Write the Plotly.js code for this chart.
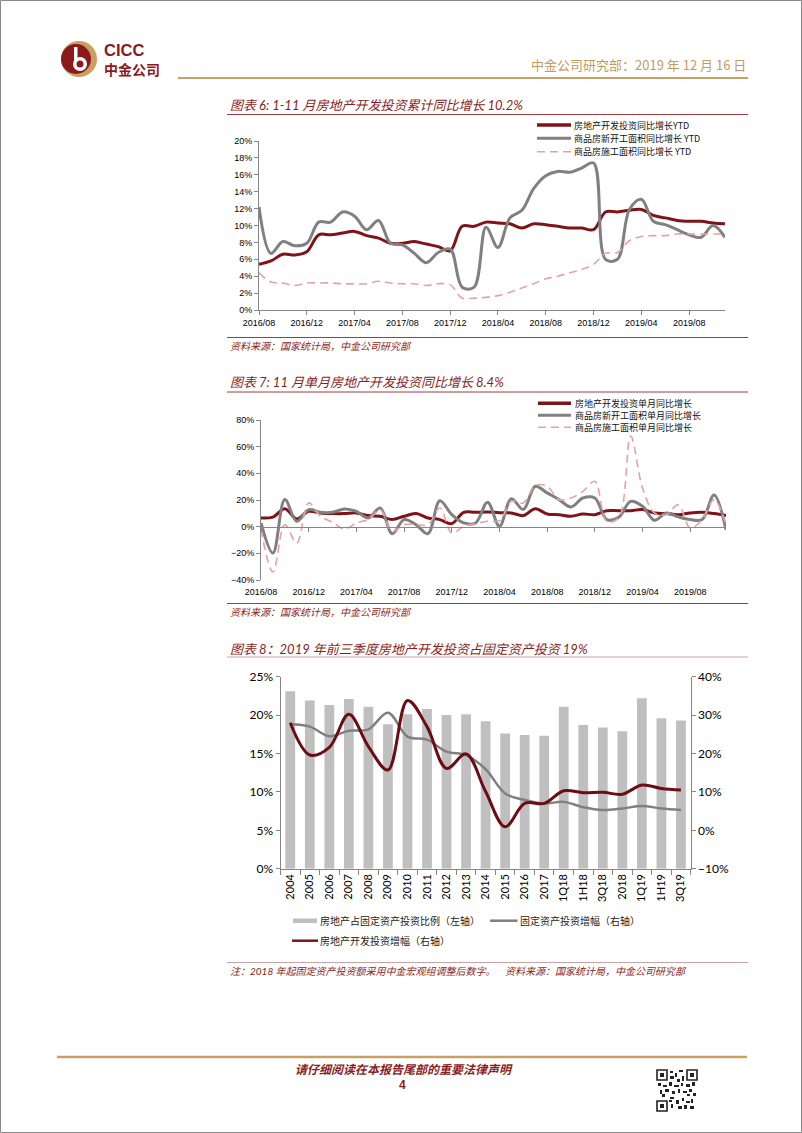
<!DOCTYPE html>
<html><head><meta charset="utf-8">
<script src="https://cdn.plot.ly/plotly-3.0.1.min.js"></script>
<style>html,body{margin:0;padding:0;background:#fff;}#page{width:802px;height:1133px;}</style>
</head><body><div id="page"></div>
<script>
const W = 802, H = 1133;

// ---------- data: chart 6 (YTD, %) ----------
const months = ['2016/08','2016/09','2016/10','2016/11','2016/12',
  '2017/01','2017/02','2017/03','2017/04','2017/05','2017/06','2017/07','2017/08','2017/09','2017/10','2017/11','2017/12',
  '2018/01','2018/02','2018/03','2018/04','2018/05','2018/06','2018/07','2018/08','2018/09','2018/10','2018/11','2018/12',
  '2019/01','2019/02','2019/03','2019/04','2019/05','2019/06','2019/07','2019/08','2019/09','2019/10','2019/11'];
const tickMonths = ['2016/08','2016/12','2017/04','2017/08','2017/12','2018/04','2018/08','2018/12','2019/04','2019/08'];
const invYTD = [5.4,5.8,6.6,6.5,6.9,8.9,8.9,9.1,9.3,8.8,8.5,7.9,7.9,8.1,7.8,7.5,7.0,9.9,9.9,10.4,10.3,10.2,9.7,10.2,10.1,9.9,9.7,9.7,9.5,11.6,11.6,11.8,11.9,11.2,10.9,10.6,10.5,10.5,10.3,10.2];
const newStartYTD = [12.2,6.7,8.1,7.6,7.9,10.4,10.4,11.6,11.1,9.5,10.6,7.9,7.7,6.7,5.6,6.8,7.2,2.7,2.7,9.8,7.4,10.9,11.8,14.4,15.9,16.4,16.3,16.8,17.4,6.0,6.0,11.9,13.1,10.5,10.1,9.5,8.9,8.6,10.0,8.6];
const underConYTD = [4.4,3.3,3.2,2.9,3.2,3.2,3.2,3.1,3.1,3.1,3.4,3.2,3.1,3.1,2.9,3.1,3.0,1.4,1.4,1.5,1.7,2.1,2.6,3.1,3.7,4.0,4.4,4.8,5.4,6.7,6.8,8.2,8.7,8.8,8.8,9.0,9.0,9.0,9.0,9.0];
const ytdNames = ['房地产开发投资同比增长YTD','商品房新开工面积同比增长 YTD','商品房施工面积同比增长 YTD'];

// ---------- data: chart 7 (single month, %) ----------
const invMonthly = [6.5,7.2,13.5,5.8,11.5,10.3,9.8,9.8,10.3,8.3,7.8,5.3,7.8,9.8,6.5,5.3,2.3,10.8,10.8,11.0,10.5,10.3,8.3,13.5,9.5,9.0,7.8,9.5,9.0,12.0,12.0,12.0,12.8,10.3,9.8,9.0,10.3,10.8,9.8,8.4];
const newStartMonthly = [2.8,-19.8,20.3,4.0,12.8,10.8,10.8,13.3,11.5,6.5,14.0,-5.3,5.3,1.5,-5.3,19.5,9.0,2.8,2.8,18.3,0.3,21.0,12.8,30.3,25.3,20.3,14.8,21.5,21.5,5.3,7.0,19.0,15.3,4.8,10.3,7.3,5.3,5.3,23.8,-2.3];
const underConMonthly = [-2.0,-34.0,1.5,-12.3,17.8,7.8,3.3,-1.8,2.8,5.3,12.8,-3.5,1.5,1.5,1.5,14.0,-4.8,0.3,2.3,4.0,4.5,19.0,17.8,30.8,30.3,20.3,21.5,26.5,34.0,4.0,6.5,68.0,29.0,10.3,9.0,16.5,-1.0,5.3,20.3,1.5];
const monthlyNames = ['房地产开发投资单月同比增长','商品房新开工面积单月同比增长','商品房施工面积单月同比增长'];

// ---------- data: chart 8 ----------
const periods = ['2004','2005','2006','2007','2008','2009','2010','2011','2012','2013','2014','2015','2016','2017','1Q18','1H18','3Q18','2018','1Q19','1H19','3Q19'];
const reShare = [23.1,21.9,21.3,22.1,21.1,18.8,20.1,20.8,20.0,20.1,19.2,17.6,17.4,17.3,21.1,18.7,18.4,17.9,22.2,19.6,19.3];
const faiGrowth = [27.6,27.0,24.5,25.9,26.3,30.6,24.4,23.6,20.5,19.6,15.9,9.6,7.9,7.0,7.4,6.0,5.3,5.7,6.3,5.7,5.3];
const reGrowth = [28.0,19.6,21.6,30.2,21.8,15.7,33.8,27.0,16.1,19.9,10.1,0.9,7.0,7.0,10.3,9.8,9.9,9.4,11.8,10.9,10.5];
const fig8Names = ['房地产占固定资产投资比例（左轴）','固定资产投资增幅（右轴）','房地产开发投资增幅（右轴）'];

// ---------- colours ----------
const RED = '#7E1417', GRAY = '#808080', PINK = '#E4A2A2', BARGRAY = '#BFBFBF';
const AX = '#868686', TITLE = '#8B1E23', GOLD = '#C9A063';
const CJK = "'Noto Sans CJK SC', sans-serif";
const LAT = "Lato, 'Noto Sans CJK SC', sans-serif";
const ARIAL = "'Liberation Sans', Arial, sans-serif";

// ---------- helpers (page pixel -> paper) ----------
const P = x => x / W, Q = y => 1 - y / H;
const domX = (a, b) => [a / W, b / W];
const domY = (top, bottom) => [1 - bottom / H, 1 - top / H];
const shapes = [], annotations = [];
function ln(x0, y0, x1, y1, color, width, dash) {
  shapes.push({type:'line', xref:'paper', yref:'paper', x0:P(x0), y0:Q(y0), x1:P(x1), y1:Q(y1),
    line:{color:color, width:width, dash:dash || 'solid'}});
}
function rc(x0, y0, x1, y1, fill, lc, lw) {
  shapes.push({type:'rect', xref:'paper', yref:'paper', x0:P(x0), y0:Q(y1), x1:P(x1), y1:Q(y0),
    fillcolor:fill, line:{color:lc || fill, width:lw || 0}});
}
function ci(cx, cy, r, fill) {
  shapes.push({type:'circle', xref:'paper', yref:'paper', x0:P(cx - r), x1:P(cx + r), y0:Q(cy + r), y1:Q(cy - r),
    fillcolor:fill, line:{width:0}});
}
function tx(x, y, text, size, color, family, xanchor) {
  annotations.push({xref:'paper', yref:'paper', x:P(x), y:Q(y), text:text, showarrow:false,
    xanchor:xanchor || 'left', yanchor:'middle', borderpad:0,
    font:{size:size, color:color, family:family || CJK}});
}

// ---------- page frame / header / footer ----------
rc(0.5, 0.5, W - 0.5, H - 0.5, 'rgba(0,0,0,0)', '#8a8a8a', 1);
ci(79, 59, 18, GOLD);
ci(76, 59, 15, '#8B1A1F');
ci(80, 64, 7, '#ffffff');
ci(80, 64, 3.5, '#8B1A1F');
rc(74, 47, 77.5, 62, '#ffffff');
tx(103, 50, '<b>CICC</b>', 16.5, '#8B1A1F', ARIAL);
tx(103, 69.5, '<b>中金公司</b>', 14, '#8B1A1F', CJK);
ln(178, 78, 748, 78, GOLD, 2);
tx(747, 65, '中金公司研究部：2019 年 12 月 16 日', 13, '#C39B5F', CJK, 'right');

ln(57, 1057, 747, 1057, GOLD, 2.5);
tx(404, 1068.5, '<b><i>请仔细阅读在本报告尾部的重要法律声明</i></b>', 12, TITLE, CJK, 'center');
tx(403, 1084.5, '<b>4</b>', 12, TITLE, ARIAL, 'center');
// small QR code
rc(657, 1070, 697, 1111, '#ffffff', '#ffffff', 0);
[[657,1070],[687,1070],[657,1101]].forEach(([x,y]) => {
  rc(x, y, x + 10, y + 10, '#ffffff', '#222', 1.6);
  rc(x + 3, y + 3, x + 7, y + 7, '#222');
});
[[670,1071,3,2],[675,1073,2,4],[679,1070,4,2],[670,1076,4,3],[677,1079,3,3],[682,1076,2,5],
 [658,1083,3,3],[663,1085,4,2],[669,1082,3,4],[674,1085,5,2],[681,1083,2,3],[686,1084,4,3],[692,1082,3,4],
 [660,1090,2,4],[665,1089,4,3],[672,1091,3,3],[678,1089,2,4],[683,1091,4,2],[689,1089,3,3],[693,1093,3,3],
 [670,1097,4,2],[676,1100,3,4],[682,1098,2,3],[686,1101,4,2],[691,1099,2,4],[671,1104,2,4],[678,1106,4,3],
 [684,1105,3,4],[690,1106,4,3],[669,1100,3,2],[687,1094,3,2],[662,1094,3,3]].forEach(([x,y,w,h]) => rc(x, y, x + w, y + h, '#222'));

// ---------- chart 6 texts ----------
tx(229, 105, '<i>图表 6: 1-11 月房地产开发投资累计同比增长 10.2%</i>', 13, TITLE, LAT);
ln(227, 114.5, 748, 114.5, '#A23A3E', 1);
ln(227, 337.5, 748, 337.5, '#A23A3E', 1);
tx(229, 345.5, '<i>资料来源：国家统计局，中金公司研究部</i>', 10, TITLE, CJK);
const leg6Y = [125, 138.3, 151.7];
ln(537, leg6Y[0], 571, leg6Y[0], RED, 3.5);
ln(537, leg6Y[1], 571, leg6Y[1], GRAY, 3);
ln(537, leg6Y[2], 571, leg6Y[2], PINK, 1.6, '8px,5px');
ytdNames.forEach((n, i) => tx(573, leg6Y[i], n, 9, '#111', CJK));

// ---------- chart 7 texts ----------
tx(229, 382.5, '<i>图表 7: 11 月单月房地产开发投资同比增长 8.4%</i>', 13, TITLE, LAT);
ln(227, 392, 748, 392, '#A23A3E', 1);
ln(227, 603.5, 748, 603.5, '#A23A3E', 1);
tx(229, 611, '<i>资料来源：国家统计局，中金公司研究部</i>', 10, TITLE, CJK);
const leg7Y = [403.3, 415.2, 427.2];
ln(538, leg7Y[0], 571, leg7Y[0], RED, 3.5);
ln(538, leg7Y[1], 571, leg7Y[1], GRAY, 3);
ln(538, leg7Y[2], 571, leg7Y[2], PINK, 1.6, '8px,5px');
monthlyNames.forEach((n, i) => tx(574, leg7Y[i], n, 9, '#111', CJK));

// ---------- chart 8 texts ----------
tx(229, 648.5, '<i>图表 8：2019 年前三季度房地产开发投资占固定资产投资 19%</i>', 13, TITLE, LAT);
ln(227, 657, 748, 657, '#C9A3A3', 1.2);
rc(293, 918.5, 317, 923, BARGRAY);
tx(319, 920.7, fig8Names[0], 10, '#222', CJK);
ln(490, 920.7, 517.5, 920.7, GRAY, 2.5);
tx(519, 920.7, fig8Names[1], 10, '#222', CJK);
ln(292, 940.7, 318, 940.7, RED, 2.5);
tx(319, 940.7, fig8Names[2], 10, '#222', CJK);
ln(227, 962.5, 748, 962.5, '#C9A3A3', 1.2);
tx(229, 971, '<i>注：2018 年起固定资产投资额采用中金宏观组调整后数字。    资料来源：国家统计局，中金公司研究部</i>', 10, TITLE, LAT);

// ---------- traces ----------
const tickFont9 = {family: ARIAL, size: 9, color: '#000'};
const traces = [
  {x: months, y: invYTD, xaxis:'x', yaxis:'y', type:'scatter', mode:'lines', line:{color:RED, width:3, shape:'spline'}},
  {x: months, y: newStartYTD, xaxis:'x', yaxis:'y', type:'scatter', mode:'lines', line:{color:GRAY, width:3, shape:'spline'}},
  {x: months, y: underConYTD, xaxis:'x', yaxis:'y', type:'scatter', mode:'lines', line:{color:PINK, width:1.6, dash:'8px,5px', shape:'spline'}},

  {x: months, y: invMonthly, xaxis:'x2', yaxis:'y2', type:'scatter', mode:'lines', line:{color:RED, width:3, shape:'spline'}},
  {x: months, y: newStartMonthly, xaxis:'x2', yaxis:'y2', type:'scatter', mode:'lines', line:{color:GRAY, width:3, shape:'spline'}},
  {x: months, y: underConMonthly, xaxis:'x2', yaxis:'y2', type:'scatter', mode:'lines', line:{color:PINK, width:1.6, dash:'8px,5px', shape:'spline'}},

  {x: periods, y: reShare, xaxis:'x3', yaxis:'y3', type:'bar', marker:{color:BARGRAY}},
  {x: periods, y: faiGrowth, xaxis:'x3', yaxis:'y4', type:'scatter', mode:'lines', line:{color:GRAY, width:2.5, shape:'spline'}},
  {x: periods, y: reGrowth, xaxis:'x3', yaxis:'y4', type:'scatter', mode:'lines', line:{color:'#6E0C14', width:3, shape:'spline'}}
];

const commonX = {type:'category', showgrid:false, zeroline:false, showline:true, linecolor:AX, linewidth:1,
  ticks:'outside', ticklen:4, tickcolor:AX, tickwidth:1};
const commonY = {showgrid:false, zeroline:false, showline:true, linecolor:AX, linewidth:1,
  ticks:'outside', ticklen:4, tickcolor:AX, tickwidth:1, ticksuffix:'%'};
const font12 = {family: LAT, size: 12, color: '#000'};

const layout = {
  width: W, height: H, margin:{l:0, r:0, t:0, b:0},
  paper_bgcolor:'#fff', plot_bgcolor:'rgba(0,0,0,0)',
  showlegend:false, hovermode:false, bargap:0.5,
  xaxis: Object.assign({}, commonX, {domain:domX(259,725), anchor:'y', range:[0,39],
    tickmode:'array', tickvals:tickMonths, ticktext:tickMonths, tickfont:tickFont9}),
  yaxis: Object.assign({}, commonY, {domain:domY(141,310), anchor:'x', range:[0,20], dtick:2, tick0:0, tickfont:tickFont9}),

  xaxis2: Object.assign({}, commonX, {domain:domX(261,726), anchor:'free', position:Q(526.7), range:[0,39],
    tickmode:'array', tickvals:tickMonths, ticktext:tickMonths, tickfont:tickFont9, ticklabelstandoff:52}),
  yaxis2: Object.assign({}, commonY, {domain:domY(420,580), anchor:'x2', range:[-40,80], dtick:20, tick0:0, tickfont:tickFont9}),

  xaxis3: Object.assign({}, commonX, {domain:domX(280.5,690.7), anchor:'y3', range:[-0.5,20.5],
    tickangle:-90, tickson:'boundaries', ticklen:5, tickfont:{family:LAT, size:11, color:'#000'}}),
  yaxis3: Object.assign({}, commonY, {domain:domY(676.7,868.7), anchor:'x3', range:[0,25], dtick:5, tick0:0, tickfont:font12}),
  yaxis4: Object.assign({}, commonY, {overlaying:'y3', side:'right', anchor:'x3', range:[-10,40], dtick:10, tick0:0, tickfont:font12}),

  shapes: shapes, annotations: annotations
};

Plotly.newPlot('page', traces, layout, {staticPlot:true, displayModeBar:false});
</script>
</body></html>
